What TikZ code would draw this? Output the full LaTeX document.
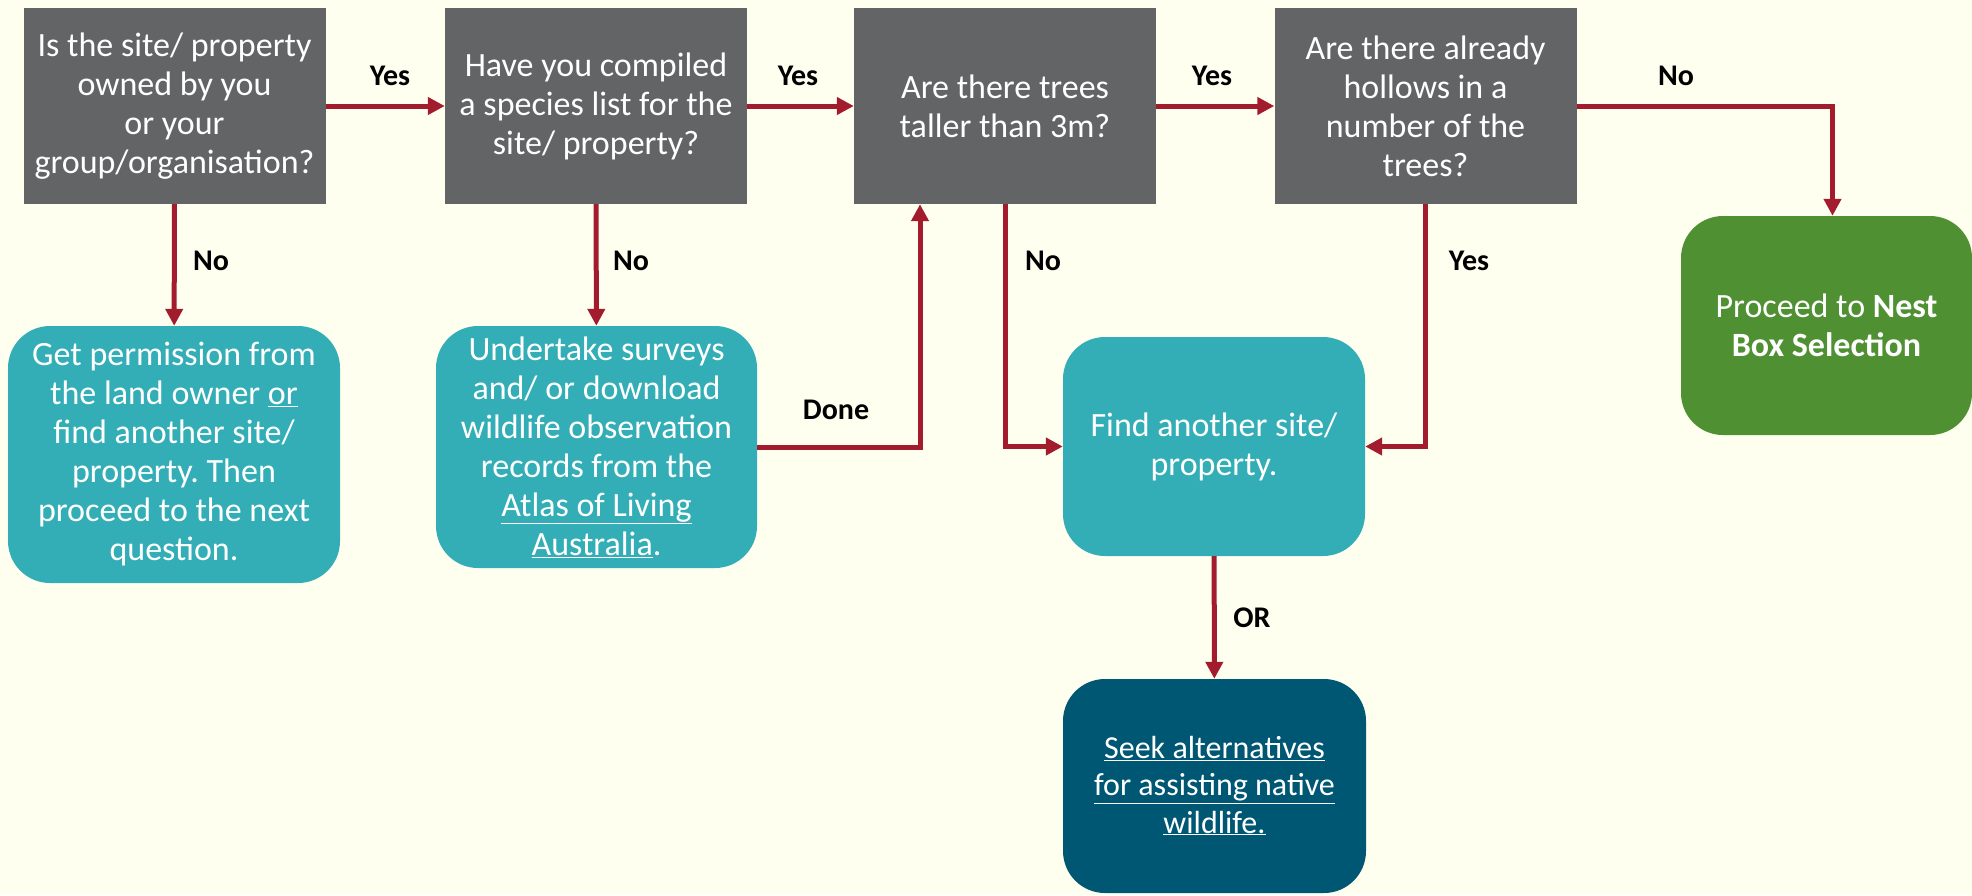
\documentclass[tikz,border=0pt]{standalone}
\usepackage{fontspec}
\setmainfont{Carlito}
\frenchspacing
\usetikzlibrary{arrows.meta}
\definecolor{bgc}{HTML}{FFFFF0}
\definecolor{qgray}{HTML}{636466}
\definecolor{tealc}{HTML}{33AEB6}
\definecolor{darkteal}{HTML}{005773}
\definecolor{greenc}{HTML}{4F9033}
\definecolor{arrred}{HTML}{A31C2E}
\begin{document}
\begin{tikzpicture}[x=1pt,y=-1pt,
  base/.style={inner sep=0pt, text=white, align=center, font=\fontsize{34}{39}\selectfont\frenchspacing},
  qbox/.style={base, fill=qgray, minimum width=302pt, minimum height=196pt},
  rbox/.style={base, rounded corners=42pt},
  arr/.style={draw=arrred, line width=5pt, -{Triangle[width=17pt,length=17pt]}},
  lab/.style={font=\fontsize{30}{34}\selectfont\bfseries, text=black, inner sep=0pt}]
\fill[bgc] (0,0) rectangle (1972,895);
\useasboundingbox (0,0) rectangle (1972,895);

% question boxes
\node[qbox] (q1) at (174.5,106) {Is the site/ property\\owned by you\\or your\\group/organisation?};
\node[qbox] (q2) at (596,106) {Have you compiled\\a species list for the\\site/ property?};
\node[qbox] (q3) at (1005,106) {Are there trees\\taller than 3m?};
\node[qbox] (q4) at (1425.5,106) {Are there already\\hollows in a\\number of the\\trees?};

% answer boxes
\node[rbox, fill=tealc, minimum width=332pt, minimum height=257pt] (perm) at (174,454.5)
  {Get permission from\\the land owner \underline{or}\\find another site/\\property. Then\\proceed to the next\\question.};
\node[rbox, fill=tealc, minimum width=321pt, minimum height=242pt] (surv) at (596.5,447)
  {Undertake surveys\\and/ or download\\wildlife observation\\records from the\\\underline{Atlas of Living}\\\underline{Australia}.};
\node[rbox, fill=tealc, minimum width=302pt, minimum height=219pt] (find) at (1214,446.5)
  {Find another site/\\property.};
\node[rbox, fill=darkteal, minimum width=303pt, minimum height=214pt,
  font=\fontsize{32}{37}\selectfont] (seek) at (1214.5,786)
  {\underline{Seek alternatives}\\\underline{for assisting native}\\\underline{wildlife.}};
\node[rbox, fill=greenc, minimum width=291pt, minimum height=219pt] (nest) at (1826.5,325.5)
  {Proceed to \textbf{Nest}\\\textbf{Box Selection}};

% connectors
\draw[arr] (q1) -- (q2);
\draw[arr] (q2) -- (q3);
\draw[arr] (q3) -- (q4);
\draw[arr] (q4.east) -| ([xshift=6pt]nest.north);
\draw[arr] (q1) -- (perm);
\draw[arr] (q2) -- (surv);
\draw[arr] (surv.east) -| ([xshift=-85pt]q3.south);
\draw[arr] (q3.south) |- (find.west);
\draw[arr] (q4.south) |- (find.east);
\draw[arr] (find) -- (seek);

% labels
\node[lab] (l1) at (390,76) {Yes};
\node[lab] (l2) at (798,76) {Yes};
\node[lab] (l3) at (1212,76) {Yes};
\node[lab] (l4) at (1676,76) {No};
\node[lab] (l5) at (211,261) {No};
\node[lab] (l6) at (631,261) {No};
\node[lab] (l7) at (1043,261) {No};
\node[lab] (l8) at (1469,261) {Yes};
\node[lab] (l9) at (836,410) {Done};
\node[lab] (l10) at (1252,618) {OR};
\end{tikzpicture}
\end{document}
